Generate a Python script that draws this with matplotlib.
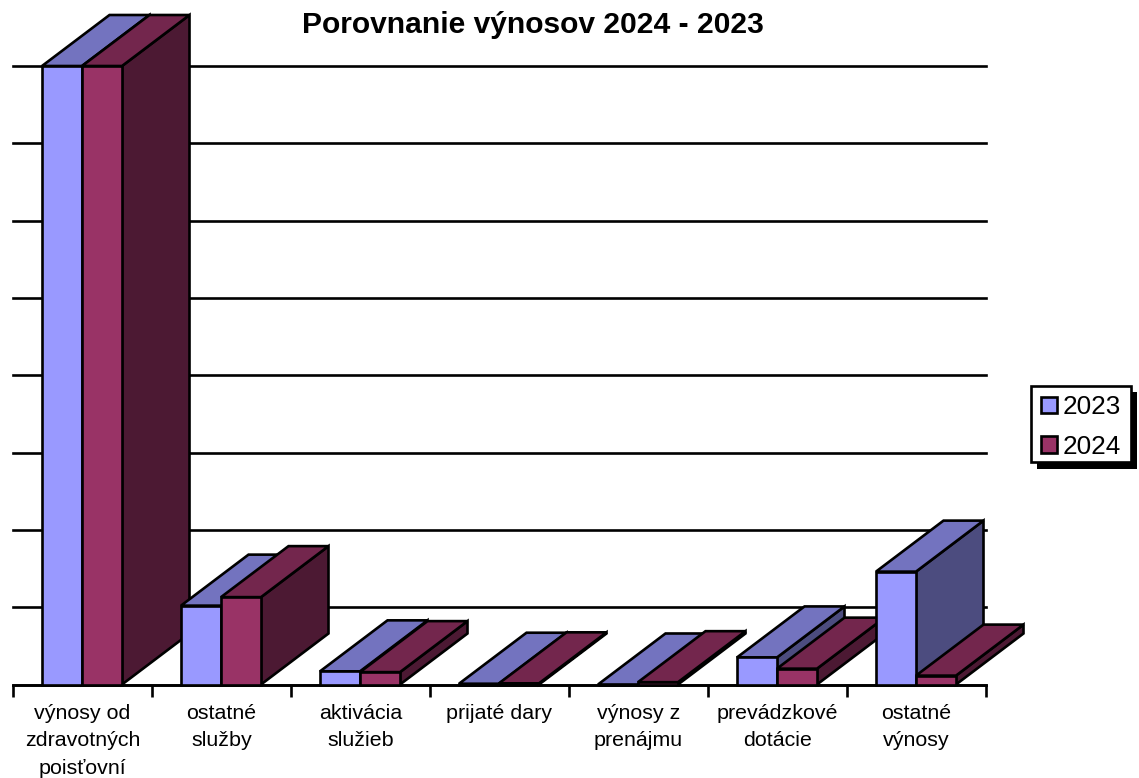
import matplotlib
matplotlib.use("Agg")
import matplotlib.pyplot as plt
from matplotlib.patches import Patch, Polygon, Rectangle

plt.rcParams["font.family"] = ["Liberation Sans", "DejaVu Sans"]

categories = [
    "výnosy od\nzdravotných\npoisťovní",
    "ostatné\nslužby",
    "aktivácia\nslužieb",
    "prijaté dary",
    "výnosy z\nprenájmu",
    "prevádzkové\ndotácie",
    "ostatné\nvýnosy",
]
values_2023 = [8.0, 1.02, 0.17, 0.01, 0.0, 0.35, 1.46]
values_2024 = [8.0, 1.13, 0.16, 0.015, 0.03, 0.205, 0.115]
series_names = ["2023", "2024"]

colors_front = ["#9999FF", "#993366"]
colors_top = ["#7373BF", "#73264D"]
colors_side = ["#4C4C7F", "#4C1933"]

# fake 3d depth, in data units
depth_x = 67.5 / 139
depth_y = 51 / 77.3
bar_start = 29 / 139
bar_width = 40 / 139
line_w = 1.9


def draw_bar(ax, x, value, idx, z):
    x2 = x + bar_width
    ax.bar(x, value, width=bar_width, align="edge", color=colors_front[idx],
           edgecolor="black", linewidth=line_w, zorder=z + 0.2, clip_on=False)
    top = [(x, value), (x2, value), (x2 + depth_x, value + depth_y),
           (x + depth_x, value + depth_y)]
    side = [(x2, 0), (x2 + depth_x, depth_y), (x2 + depth_x, value + depth_y),
            (x2, value)]
    for pts, col in [(side, colors_side[idx]), (top, colors_top[idx])]:
        ax.add_patch(Polygon(pts, closed=True, facecolor=col, edgecolor="black",
                             linewidth=line_w, joinstyle="miter",
                             zorder=z, clip_on=False))


def fig_box(fig, x0, y0, x1, y1, **kw):
    # box given in pixels from the top left corner
    fig.add_artist(Rectangle((x0 / 1139, 1 - y1 / 778), (x1 - x0) / 1139,
                             (y1 - y0) / 778, transform=fig.transFigure, **kw))


def main():
    fig = plt.figure(figsize=(11.39, 7.78), dpi=100)
    ax = fig.add_axes([13 / 1139, 1 - 684.5 / 778, 973 / 1139, 618.5 / 778])
    ax.set_xlim(0, 7)
    ax.set_ylim(0, 8)

    ax.set_yticks(range(9))
    ax.set_yticklabels([])
    ax.tick_params(axis="y", length=0)
    ax.grid(axis="y", color="black", linewidth=line_w, zorder=1, clip_on=False)
    ax.set_axisbelow(True)

    ax.set_xticks(range(8))
    ax.set_xticklabels([])
    ax.tick_params(axis="x", which="major", length=8.5, width=line_w)
    ax.set_xticks([i + 0.5 for i in range(7)], minor=True)
    ax.set_xticklabels(categories, minor=True, fontsize=15.4, linespacing=1.57)
    ax.tick_params(axis="x", which="minor", length=0, pad=14)

    for name in ["top", "left", "right"]:
        ax.spines[name].set_visible(False)
    ax.spines["bottom"].set_linewidth(line_w)

    z = 3
    for i in range(len(categories)):
        draw_bar(ax, i + bar_start, values_2023[i], 0, z)
        draw_bar(ax, i + bar_start + bar_width, values_2024[i], 1, z + 1)
        z += 2

    fig.text(533 / 1139, 1 - 25 / 778, "Porovnanie výnosov 2024 - 2023",
             ha="center", va="center", fontsize=21.6, fontweight="bold")

    # legend frame and its hard shadow
    fig_box(fig, 1037, 392, 1137, 469, facecolor="black", edgecolor="black",
            linewidth=0, zorder=3)
    fig_box(fig, 1031, 386, 1131, 462, facecolor="white", edgecolor="black",
            linewidth=line_w, zorder=3.5)

    handles = [
        Patch(facecolor=colors_front[k], edgecolor="black", linewidth=line_w)
        for k in range(2)
    ]
    fig.legend(handles, series_names, loc="upper left",
               bbox_to_anchor=(1041 / 1139, 1 - 395 / 778),
               fontsize=18.8, frameon=False, borderaxespad=0, borderpad=0,
               handlelength=0.6, handleheight=0.6, handletextpad=0.22,
               labelspacing=0.6)

    fig.savefig("out.png", dpi=100)
    plt.close(fig)


if __name__ == "__main__":
    main()
